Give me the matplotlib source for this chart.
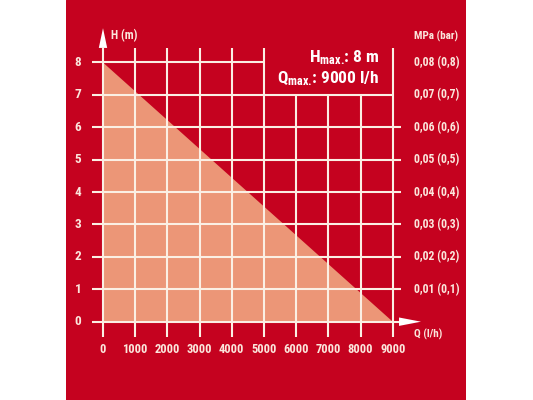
import matplotlib
matplotlib.use("Agg")
import matplotlib.pyplot as plt
from matplotlib import font_manager as fm

# ---- data ----
q_values = [0, 9000]          # flow rate Q (l/h)
h_values = [8, 0]             # head H (m)
x_ticks = [0, 1000, 2000, 3000, 4000, 5000, 6000, 7000, 8000, 9000]
y_ticks = [0, 1, 2, 3, 4, 5, 6, 7, 8]
right_labels = ["", "0,01 (0,1)", "0,02 (0,2)", "0,03 (0,3)", "0,04 (0,4)",
                "0,05 (0,5)", "0,06 (0,6)", "0,07 (0,7)", "0,08 (0,8)"]
h_max_text = "8 m"
q_max_text = "9000 l/h"

names = {f.name for f in fm.fontManager.ttflist}
FONT = None
for cand in ["Roboto Condensed", "PT Sans Narrow", "Liberation Sans Narrow"]:
    if cand in names:
        FONT = cand
        break
STRETCH = "normal"
if FONT is None:
    FONT = "DejaVu Sans"
    STRETCH = "condensed"
plt.rcParams['font.family'] = [FONT, 'DejaVu Sans']
plt.rcParams['font.stretch'] = STRETCH
plt.rcParams['mathtext.fontset'] = 'custom'
plt.rcParams['mathtext.bf'] = FONT + ':bold'
plt.rcParams['mathtext.rm'] = FONT + ':bold'

RED = "#C5021F"
SALMON = "#EC9677"
LINE = "#FBEFE4"
TXT = "#FBE6DC"

fig = plt.figure(figsize=(5.33, 4.0), dpi=100)
fig.patch.set_facecolor("white")
ax = fig.add_axes([66/533, 0, 400/533, 1])
ax.set_xlim(-1149, 11273)
ax.set_ylim(-2.417, 9.929)
ax.axis("off")
ax.add_patch(plt.Rectangle((0, 0), 1, 1, transform=ax.transAxes, color=RED, zorder=0))

# filled curve
ax.fill_between(q_values, h_values, 0, color=SALMON, lw=0, zorder=1)

lw = 1.5
top = 8.45
bot = -0.47
left = -342
right = 9255
box_q = 5000
box_h = 7

# horizontal grid lines
for h in y_ticks:
    if h == 8:
        ax.plot([left, box_q], [h, h], color=LINE, lw=lw, zorder=2, solid_capstyle="butt")
    elif h == 7:
        ax.plot([left, x_ticks[-1]], [h, h], color=LINE, lw=lw, zorder=2, solid_capstyle="butt")
    else:
        ax.plot([left, right], [h, h], color=LINE, lw=lw, zorder=2, solid_capstyle="butt")

# vertical grid lines
for q in x_ticks:
    t = box_h if (box_q < q < x_ticks[-1]) else top
    ax.plot([q, q], [bot, t], color=LINE, lw=lw, zorder=2, solid_capstyle="butt")

# arrows
ax.fill([-130, 130, 0], [top, top, 9.06], color="white", lw=0, zorder=3)
ax.fill([9193, 9193, 9876], [-0.13, 0.13, 0], color="white", lw=0, zorder=3)

fs = 9
for q in x_ticks:
    ax.text(q, -0.87, str(q), ha="center", va="center", color=TXT,
            fontsize=fs, fontweight="bold")
for h in y_ticks:
    ax.text(-776, h, str(h), ha="center", va="center", color=TXT,
            fontsize=9.5, fontweight="bold")
for h, lab in zip(y_ticks, right_labels):
    if lab:
        ax.text(9658, h, lab, ha="left", va="center", color=TXT,
                fontsize=8.5, fontweight="bold")

ax.text(248, 8.82, "H (m)", ha="left", va="center", color=TXT, fontsize=8.5, fontweight="bold")
ax.text(9658, 8.82, "MPa (bar)", ha="left", va="center", color=TXT, fontsize=8, fontweight="bold")
ax.text(9658, -0.38, "Q (l/h)", ha="left", va="center", color=TXT, fontsize=8, fontweight="bold")

ax.text(8571, 8.14, r"$\mathbf{H_{max.}}\!$: " + h_max_text, ha="right", va="center",
        color="white", fontsize=12.5, fontweight="bold")
ax.text(8571, 7.49, r"$\mathbf{Q_{max.}}\!$: " + q_max_text, ha="right", va="center",
        color="white", fontsize=12.5, fontweight="bold")

fig.savefig("out.png", dpi=100, facecolor="white")
